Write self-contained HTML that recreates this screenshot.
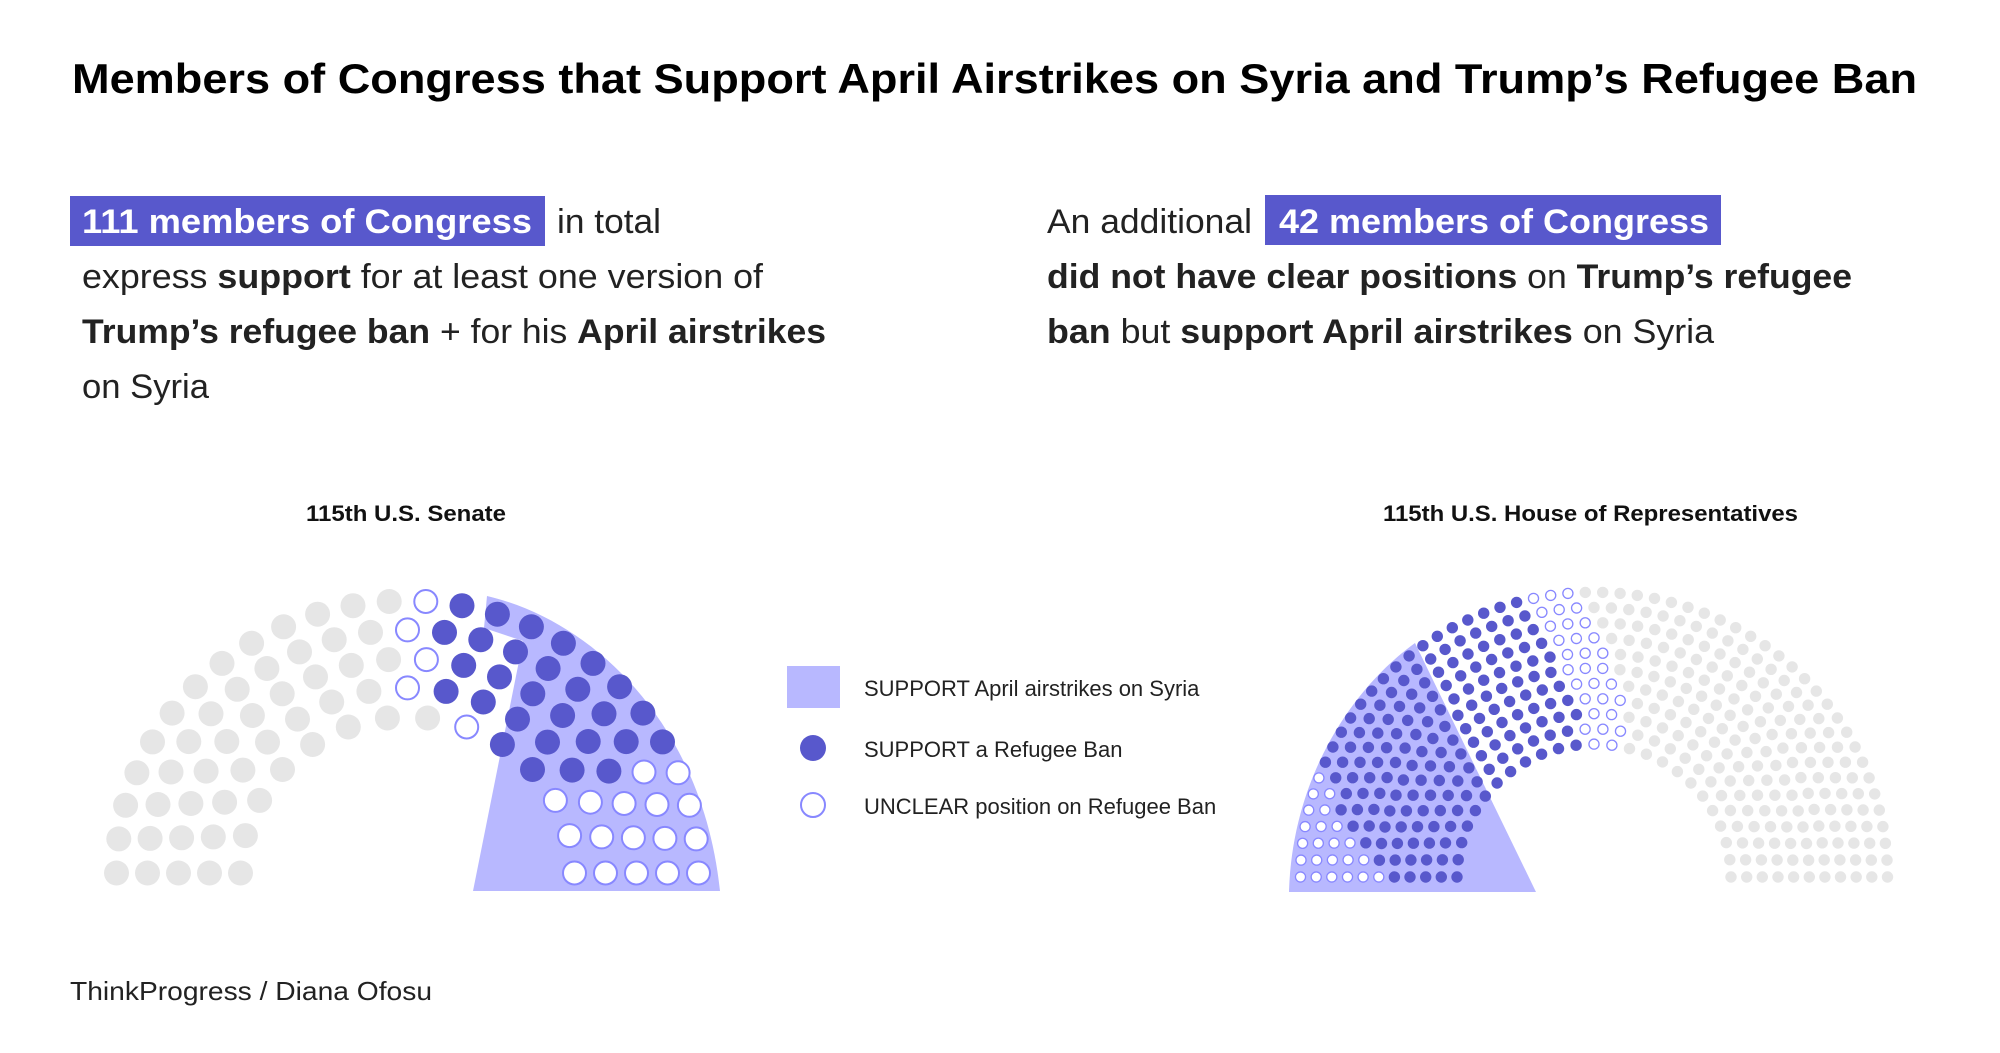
<!DOCTYPE html>
<html><head><meta charset="utf-8"><style>
html,body{margin:0;padding:0;background:#fff;}
svg{display:block;}
text{font-family:"Liberation Sans",Arial,sans-serif;}
</style></head><body>
<svg id="s" width="2000" height="1053" viewBox="0 0 2000 1053" xmlns="http://www.w3.org/2000/svg">
<rect width="2000" height="1053" fill="#fff"/>
<text x="72" y="93" font-size="42" font-weight="bold" fill="#000" textLength="1845" lengthAdjust="spacingAndGlyphs">Members of Congress that Support April Airstrikes on Syria and Trump’s Refugee Ban</text>

<rect x="70" y="196" width="475" height="50" fill="#5858cc"/>
<text x="82" y="233" font-size="34" font-weight="bold" fill="#fff" textLength="450" lengthAdjust="spacingAndGlyphs">111 members of Congress</text>
<text x="557" y="233" font-size="34" fill="#222" textLength="104" lengthAdjust="spacingAndGlyphs">in total</text>
<text x="82" y="288" font-size="34" fill="#222" textLength="681" lengthAdjust="spacingAndGlyphs">express <tspan font-weight="bold">support</tspan> for at least one version of</text>
<text x="82" y="343" font-size="34" fill="#222" textLength="744" lengthAdjust="spacingAndGlyphs"><tspan font-weight="bold">Trump’s refugee ban</tspan> + for his <tspan font-weight="bold">April airstrikes</tspan></text>
<text x="82" y="398" font-size="34" fill="#222" textLength="127" lengthAdjust="spacingAndGlyphs">on Syria</text>

<rect x="1265" y="195" width="456" height="50" fill="#5858cc"/>
<text x="1047" y="233" font-size="34" fill="#222" textLength="205" lengthAdjust="spacingAndGlyphs">An additional</text>
<text x="1279" y="233" font-size="34" font-weight="bold" fill="#fff" textLength="430" lengthAdjust="spacingAndGlyphs">42 members of Congress</text>
<text x="1047" y="288" font-size="34" fill="#222" textLength="805" lengthAdjust="spacingAndGlyphs"><tspan font-weight="bold">did not have clear positions</tspan> on <tspan font-weight="bold">Trump’s refugee</tspan></text>
<text x="1047" y="343" font-size="34" fill="#222" textLength="667" lengthAdjust="spacingAndGlyphs"><tspan font-weight="bold">ban</tspan> but <tspan font-weight="bold">support April airstrikes</tspan> on Syria</text>

<text x="306" y="521" font-size="22" font-weight="bold" fill="#111" textLength="200" lengthAdjust="spacingAndGlyphs">115th U.S. Senate</text>
<text x="1383" y="521" font-size="22" font-weight="bold" fill="#111" textLength="415" lengthAdjust="spacingAndGlyphs">115th U.S. House of Representatives</text>

<path d="M473,891 L523,641 L484,628 L487,596 C590,620 702,720 720,891 Z" fill="#b8b8ff"/>
<path d="M1289,892 L1536,892 L1415,643 C1350,690 1292,780 1289,892 Z" fill="#b8b8ff"/>
<g id="dots"></g>

<rect x="787" y="666" width="53" height="42" fill="#b8b8ff"/>
<circle cx="813" cy="748" r="13" fill="#5858cc"/>
<circle cx="813" cy="805" r="12" fill="#fff" stroke="#8888ff" stroke-width="2"/>
<text x="864" y="696" font-size="22" fill="#222">SUPPORT April airstrikes on Syria</text>
<text x="864" y="757" font-size="22" fill="#222">SUPPORT a Refugee Ban</text>
<text x="864" y="814" font-size="22" fill="#222">UNCLEAR position on Refugee Ban</text>

<text x="70" y="1000" font-size="26" fill="#222" textLength="362" lengthAdjust="spacingAndGlyphs">ThinkProgress / Diana Ofosu</text>
</svg>
<script>
(function(){
var g=document.getElementById('dots'),NS='http://www.w3.org/2000/svg';
function dot(x,y,r,c,sw){
 var e=document.createElementNS(NS,'circle');
 e.setAttribute('cx',x.toFixed(1));e.setAttribute('cy',y.toFixed(1));
 e.setAttribute('r',r);
 if(c=='g')e.setAttribute('fill','#e6e6e6');
 else if(c=='d')e.setAttribute('fill','#5858cc');
 else {e.setAttribute('fill','#fff');e.setAttribute('stroke','#8888ff');e.setAttribute('stroke-width',sw);
   e.setAttribute('r',r-sw/2);}
 g.appendChild(e);
}
// Senate
var scx=407.5,scy=873,ssy=0.935,sn=[14,17,20,23,26],tg=[78,90,90,90,90];
for(var i=0;i<5;i++){
 var r=167+i*31,n=sn[i],firstUnc=true;
 for(var j=0;j<n;j++){
  var th=180-j*180/(n-1),c;
  var fromEnd=n-1-j;
  if(th>tg[i]+1e-6)c='g';
  else if(firstUnc){c='u';firstUnc=false;}
  else if(fromEnd<3||(fromEnd==3&&i>=3))c='u';
  else c='d';
  var a=th*Math.PI/180;
  dot(scx+r*Math.cos(a),scy-ssy*r*Math.sin(a),12.5,c,2);
 }
}
// House
var hcx=1594,hcy=877,hsy=0.97,rows=11,radii=[],sum=0;
for(var i=0;i<rows;i++){radii.push(137+i*15.65);sum+=radii[i];}
var cnt=[],tot=0;
for(var i=0;i<rows;i++){cnt.push(Math.round(435*radii[i]/sum));tot+=cnt[i];}
cnt[rows-1]+=435-tot;
var wh=[0,0,0,0,0,1,2,3,4,6,7];
for(var i=0;i<rows;i++){
 var r=radii[i],n=cnt[i],tu=93+i*0.9,tgh=76+i*1.6;
 for(var j=0;j<n;j++){
  var th=180-j*180/(n-1),c;
  if(j<wh[i])c='u';
  else if(th>tu)c='d';
  else if(th>tgh)c='u';
  else c='g';
  var a=th*Math.PI/180;
  dot(hcx+r*Math.cos(a),hcy-hsy*r*Math.sin(a),5.7,c,1.3);
 }
}
})();
</script>
</body></html>
